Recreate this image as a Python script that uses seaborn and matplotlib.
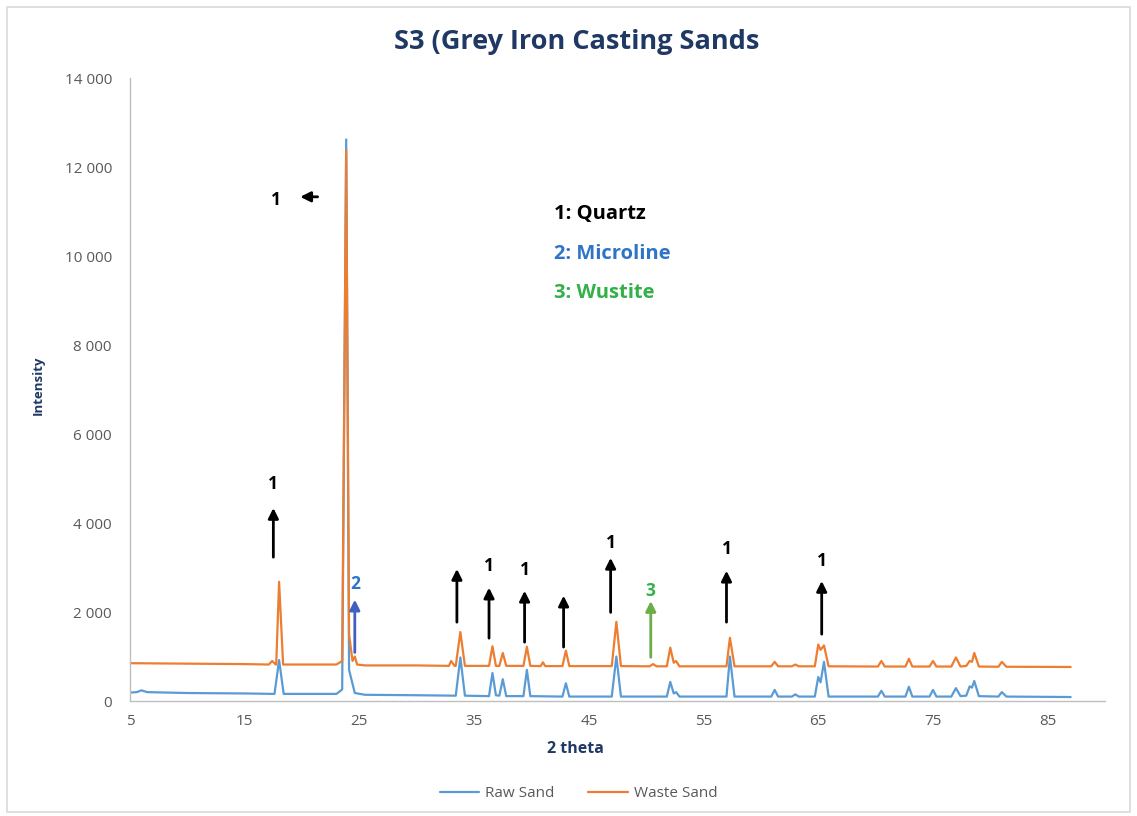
import pandas as pd
import seaborn as sns
import matplotlib.pyplot as plt
import matplotlib.ticker as ticker
from matplotlib.patches import Rectangle

# Raw sand (blue)
RAW_X = [5, 5.6, 6.0, 6.5, 10, 15, 17.6, 18.0, 18.4, 23.0, 23.5, 23.85, 24.1, 24.6, 25.5,
         30, 33.4, 33.8, 34.2, 36.3, 36.6, 36.9, 37.2, 37.5, 37.8, 39.3, 39.6, 39.9,
         42.7, 43.0, 43.3, 47.0, 47.4, 47.8, 51.8, 52.1, 52.4, 52.6, 52.9, 57.0, 57.3, 57.7,
         60.9, 61.2, 61.5, 62.7, 63.0, 63.3, 64.7, 65.0, 65.2, 65.5, 65.9, 70.2, 70.5, 70.8,
         72.6, 72.9, 73.2, 74.7, 75.0, 75.3, 76.6, 77.0, 77.4, 77.9, 78.2, 78.4, 78.6, 79.0,
         80.7, 81.0, 81.4, 87.0]
RAW_Y = [190, 200, 240, 200, 180, 170, 160, 920, 160, 160, 260, 12620, 700, 180, 140,
         130, 120, 980, 120, 110, 630, 130, 120, 490, 110, 110, 700, 110,
         100, 400, 100, 100, 1000, 100, 100, 430, 170, 200, 100, 100, 1000, 100,
         100, 250, 100, 100, 150, 100, 100, 540, 420, 880, 100, 100, 230, 100,
         100, 320, 100, 100, 250, 100, 100, 290, 110, 120, 330, 300, 450, 110,
         100, 200, 100, 90]

# Waste sand (orange)
WASTE_X = [5, 10, 15, 17.1, 17.4, 17.7, 17.75, 18.0, 18.35, 23.0, 23.5, 23.85, 24.1, 24.4,
           24.6, 24.8, 25.5, 30, 32.8, 33.0, 33.3, 33.4, 33.8, 34.2, 36.3, 36.6, 36.9, 37.2,
           37.5, 37.8, 39.3, 39.6, 39.9, 40.8, 41.0, 41.2, 42.7, 43.0, 43.3, 47.0, 47.4, 47.8,
           50.3, 50.6, 50.9, 51.8, 52.1, 52.4, 52.6, 52.9, 57.0, 57.3, 57.7, 60.9, 61.2, 61.5,
           62.7, 63.0, 63.3, 64.7, 65.0, 65.2, 65.5, 65.9, 70.2, 70.5, 70.8, 72.6, 72.9, 73.2,
           74.7, 75.0, 75.3, 76.6, 77.0, 77.4, 77.9, 78.2, 78.4, 78.6, 79.0, 80.7, 81.0, 81.4,
           87.0]
WASTE_Y = [850, 840, 830, 820, 900, 820, 820, 2680, 820, 820, 900, 12380, 1500, 900,
           1000, 820, 800, 800, 790, 900, 790, 790, 1550, 790, 790, 1230, 790, 790,
           1080, 790, 790, 1220, 790, 785, 870, 785, 785, 1130, 785, 785, 1780, 785,
           780, 830, 780, 780, 1200, 860, 900, 780, 780, 1420, 780, 780, 880, 780,
           780, 820, 780, 780, 1270, 1150, 1250, 780, 775, 900, 775, 775, 950, 775,
           775, 900, 775, 775, 980, 775, 790, 900, 880, 1080, 775,
           770, 880, 770, 765]

TITRE = 'S3 (Grey Iron Casting Sands'
Y_TICKS = [0, 2000, 4000, 6000, 8000, 10000, 12000, 14000]
X_TICKS = [5, 15, 25, 35, 45, 55, 65, 75, 85]

# (x, y_base, y_tip, label, label_y, colour)
SETAS = [
    (17.5, 3170, 4400, '1', 4880, 'black'),
    (24.6, 1030, 2340, '2', 2620, '#4060C0'),
    (33.5, 1710, 3030, '', 0, 'black'),
    (36.3, 1350, 2610, '1', 3030, 'black'),
    (39.4, 1260, 2540, '1', 2940, 'black'),
    (42.8, 1150, 2430, '', 0, 'black'),
    (46.9, 1930, 3280, '1', 3550, 'black'),
    (50.4, 920, 2310, '3', 2470, '#6AAE45'),
    (57.0, 1710, 2990, '1', 3420, 'black'),
    (65.3, 1440, 2760, '1', 3150, 'black'),
]
COR_LABEL = {'2': '#2E75C8', '3': '#33B04A'}

FASES = ['1: Quartz', '2: Microline', '3: Wustite']
COR_FASES = ['black', '#2E75C8', '#33B04A']

AZUL = '#5B9BD5'
LARANJA = '#ED7D31'
NAVY = '#1F3864'
CINZA = '#595959'

sns.set_theme(style="white")
plt.rcParams['font.family'] = ['Open Sans', 'DejaVu Sans']

fig = plt.figure(figsize=(11.37, 8.16), dpi=100)
ax = fig.add_axes([0.1143, 0.1409, 0.8576, 0.7635])

df_raw = pd.DataFrame({'x': RAW_X, 'y': RAW_Y})
df_waste = pd.DataFrame({'x': WASTE_X, 'y': WASTE_Y})
sns.lineplot(data=df_raw, x='x', y='y', color=AZUL, linewidth=1.6, label='Raw Sand', ax=ax)
sns.lineplot(data=df_waste, x='x', y='y', color=LARANJA, linewidth=1.6, label='Waste Sand', ax=ax)

ax.set_xlim(5, 90)
ax.set_ylim(0, 14000)
ax.set_xticks(X_TICKS)
ax.set_yticks(Y_TICKS)
ax.yaxis.set_major_formatter(ticker.FuncFormatter(lambda v, p: f'{int(v):,}'.replace(',', ' ')))
ax.tick_params(axis='both', length=0, labelsize=11, labelcolor=CINZA)
ax.tick_params(axis='y', pad=13)
ax.tick_params(axis='x', pad=9)

for s in ['top', 'right']:
    ax.spines[s].set_visible(False)
for s in ['left', 'bottom']:
    ax.spines[s].set_color('#BFBFBF')
    ax.spines[s].set_linewidth(1.0)

ax.set_xlabel('2 theta', fontsize=11.5, fontweight='bold', color=NAVY)
ax.set_ylabel('Intensity', fontsize=9.5, fontweight='bold', color=NAVY)
ax.xaxis.set_label_coords(0.457, -0.064)
ax.yaxis.set_label_coords(-0.087, 0.506)
fig.text(0.5075, 0.949, TITRE, ha='center', va='center', fontsize=19.5, fontweight='bold', color=NAVY)

# setas dos picos
for x, y0, y1, lab, ly, cor in SETAS:
    ax.annotate('', xy=(x, y1), xytext=(x, y0),
                arrowprops=dict(arrowstyle='-|>', color=cor, lw=2, mutation_scale=15))
    if lab:
        ax.text(x, ly, lab, ha='center', va='center', fontsize=12.5, fontweight='bold',
                color=COR_LABEL.get(lab, 'black'))

ax.annotate('', xy=(19.6, 11330), xytext=(21.6, 11330),
            arrowprops=dict(arrowstyle='-|>', color='black', lw=2, mutation_scale=15))
ax.text(17.7, 11260, '1', ha='center', va='center', fontsize=12.5, fontweight='bold', color='black')

for i, (txt, cor) in enumerate(zip(FASES, COR_FASES)):
    ax.text(42.0, 10940 - i * 890, txt, ha='left', va='center', fontsize=14.5,
            fontweight='bold', color=cor)

ax.legend(loc='center', bbox_to_anchor=(0.509, 0.027), bbox_transform=fig.transFigure,
          ncol=2, frameon=False, fontsize=11, handlelength=2.6, handletextpad=0.4,
          columnspacing=2.2, labelcolor=CINZA)

fig.patches.append(Rectangle((0.006, 0.005), 0.988, 0.986, transform=fig.transFigure,
                             fill=False, edgecolor='#D9D9D9', linewidth=1.2))

plt.savefig('out.png', dpi=100)
plt.close()
